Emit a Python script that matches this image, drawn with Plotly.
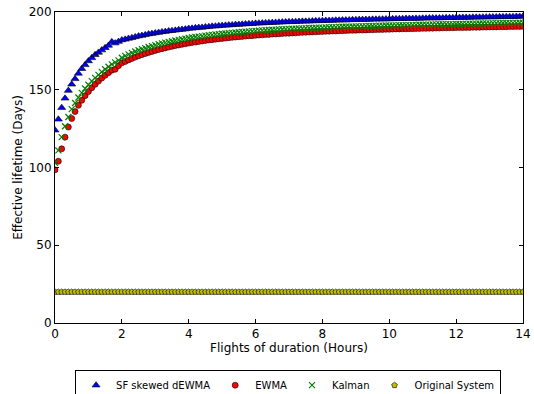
import numpy as np
import plotly.graph_objects as go

# Flight duration grid (hours)
hours = [round(i * 0.1, 1) for i in range(141)]

sf_skewed_dewma = [
    124.0, 131.0, 138.5, 144.5, 149.5, 153.5, 157.0, 160.5, 163.5, 166.0,
    168.5, 170.5, 172.5, 174.0, 175.5, 177.0, 178.5, 180.8, 180.0, 181.0,
    182.0, 182.4, 183.0, 183.4, 184.0, 184.5, 184.9, 185.3, 185.8, 186.1,
    186.5, 186.8, 187.2, 187.4, 187.8, 188.0, 188.2, 188.6, 188.8, 189.0,
    189.4, 189.5, 189.8, 190.0, 190.1, 190.4, 190.5, 190.8, 190.9, 191.1,
    191.3, 191.4, 191.6, 191.7, 191.9, 192.0, 192.1, 192.3, 192.4, 192.5,
    192.7, 192.8, 192.9, 193.0, 193.1, 193.2, 193.3, 193.4, 193.5, 193.6,
    193.7, 193.7, 193.8, 193.9, 194.0, 194.0, 194.1, 194.2, 194.3, 194.3,
    194.4, 194.5, 194.5, 194.6, 194.7, 194.7, 194.8, 194.8, 194.9, 195.0,
    195.0, 195.1, 195.1, 195.2, 195.2, 195.3, 195.3, 195.4, 195.4, 195.5,
    195.5, 195.6, 195.6, 195.7, 195.7, 195.8, 195.8, 195.8, 195.9, 195.9,
    196.0, 196.0, 196.1, 196.1, 196.1, 196.2, 196.2, 196.3, 196.3, 196.3,
    196.4, 196.4, 196.5, 196.5, 196.5, 196.6, 196.6, 196.6, 196.7, 196.7,
    196.8, 196.8, 196.8, 196.9, 196.9, 197.0, 197.0, 197.0, 197.1, 197.1,
    197.2,
]

ewma = [
    98.5, 104.0, 112.0, 119.5, 126.0, 131.5, 136.0, 140.0, 143.2, 146.2,
    148.8, 151.3, 153.5, 155.6, 157.5, 159.3, 161.0, 162.6, 163.2, 165.5,
    167.3, 168.2, 169.2, 170.1, 171.0, 171.8, 172.6, 173.3, 174.0, 174.6,
    175.3, 175.9, 176.4, 176.9, 177.5, 177.9, 178.4, 178.8, 179.2, 179.6,
    180.0, 180.4, 180.7, 181.0, 181.4, 181.7, 182.0, 182.2, 182.5, 182.8,
    183.0, 183.2, 183.5, 183.7, 183.9, 184.1, 184.3, 184.5, 184.7, 184.8,
    185.0, 185.2, 185.3, 185.5, 185.6, 185.8, 185.9, 186.0, 186.2, 186.3,
    186.4, 186.5, 186.6, 186.8, 186.9, 187.0, 187.1, 187.2, 187.3, 187.4,
    187.5, 187.6, 187.7, 187.8, 187.8, 187.9, 188.0, 188.1, 188.2, 188.2,
    188.3, 188.4, 188.4, 188.5, 188.6, 188.6, 188.7, 188.8, 188.8, 188.9,
    188.9, 189.0, 189.1, 189.1, 189.2, 189.2, 189.3, 189.3, 189.4, 189.4,
    189.5, 189.5, 189.6, 189.6, 189.7, 189.7, 189.8, 189.8, 189.9, 189.9,
    190.0, 190.0, 190.0, 190.1, 190.1, 190.2, 190.2, 190.2, 190.3, 190.3,
    190.4, 190.4, 190.4, 190.5, 190.5, 190.5, 190.6, 190.6, 190.7, 190.7,
    190.8,
]

kalman = [
    103.0, 111.0, 119.5, 126.5, 132.5, 137.5, 141.5, 145.0, 148.0, 150.8,
    153.2, 155.5, 157.6, 159.6, 161.5, 163.2, 164.8, 166.3, 167.6, 168.9,
    170.6, 171.8, 172.8, 173.7, 174.6, 175.4, 176.1, 176.8, 177.5, 178.1,
    178.7, 179.3, 179.8, 180.3, 180.8, 181.2, 181.7, 182.1, 182.5, 182.9,
    183.3, 183.6, 183.9, 184.2, 184.5, 184.8, 185.1, 185.3, 185.6, 185.8,
    186.0, 186.2, 186.4, 186.6, 186.8, 187.0, 187.2, 187.4, 187.5, 187.7,
    187.9, 188.0, 188.2, 188.3, 188.4, 188.6, 188.7, 188.8, 188.9, 189.0,
    189.1, 189.2, 189.3, 189.4, 189.5, 189.6, 189.7, 189.8, 189.9, 190.0,
    190.0, 190.1, 190.2, 190.3, 190.3, 190.4, 190.5, 190.5, 190.6, 190.7,
    190.7, 190.8, 190.9, 190.9, 191.0, 191.0, 191.1, 191.2, 191.2, 191.3,
    191.3, 191.4, 191.4, 191.5, 191.5, 191.6, 191.6, 191.7, 191.7, 191.8,
    191.8, 191.9, 191.9, 192.0, 192.0, 192.1, 192.1, 192.2, 192.2, 192.2,
    192.3, 192.3, 192.4, 192.4, 192.5, 192.5, 192.5, 192.6, 192.6, 192.7,
    192.7, 192.8, 192.8, 192.8, 192.9, 192.9, 193.0, 193.0, 193.0, 193.1,
    193.1,
]

original_system = [20.0] * 141

x_ticks = [0, 2, 4, 6, 8, 10, 12, 14]
y_ticks = [0, 50, 100, 150, 200]

FONT = "DejaVu Sans"

fig = go.Figure()
fig.add_trace(go.Scatter(
    x=hours, y=sf_skewed_dewma, mode="markers", name="SF skewed dEWMA",
    marker=dict(symbol="triangle-up", size=7, color="#0000ff",
                line=dict(color="black", width=0.6))))
fig.add_trace(go.Scatter(
    x=hours, y=ewma, mode="markers", name="EWMA",
    marker=dict(symbol="circle", size=6, color="#ff0000",
                line=dict(color="black", width=0.6))))
fig.add_trace(go.Scatter(
    x=hours, y=kalman, mode="markers", name="Kalman",
    marker=dict(symbol="x-thin", size=6, color="#008000",
                line=dict(color="#008000", width=1.2))))
fig.add_trace(go.Scatter(
    x=hours, y=original_system, mode="markers", name="Original System",
    marker=dict(symbol="pentagon", size=6, color="#bfbf00",
                line=dict(color="black", width=0.6))))

axis_common = dict(
    showline=True, linecolor="black", linewidth=1, mirror="ticks",
    ticks="inside", ticklen=4, tickcolor="black", showgrid=False,
    zeroline=False, automargin=False, ticklabeloverflow="allow",
    tickfont=dict(family=FONT, size=12, color="black"),
)

fig.update_xaxes(range=[0, 14], tickvals=x_ticks, ticktext=[str(t) for t in x_ticks],
                 title=dict(text="Flights of duration (Hours)", standoff=2,
                            font=dict(family=FONT, size=12, color="black")),
                 **axis_common)
fig.update_yaxes(range=[0, 200], tickvals=y_ticks, ticktext=[str(t) for t in y_ticks],
                 title=dict(text="Effective lifetime (Days)", standoff=3,
                            font=dict(family=FONT, size=12, color="black")),
                 **axis_common)

fig.update_layout(
    width=534, height=394,
    margin=dict(l=55, r=11, t=12, b=71, autoexpand=False),
    paper_bgcolor="white", plot_bgcolor="white",
    font=dict(family=FONT, size=12, color="black"),
    showlegend=True,
    legend=dict(orientation="h", x=0.498, xanchor="center", y=-0.2, yanchor="middle",
                bordercolor="black", borderwidth=1, bgcolor="white",
                font=dict(family=FONT, size=10, color="black"),
                itemwidth=30, tracegroupgap=0),
)

# Remove the default page margin so the figure fills the window exactly.
fig.write_html("out.html", config={"displayModeBar": False},
               post_script="document.body.style.margin='0px';")
